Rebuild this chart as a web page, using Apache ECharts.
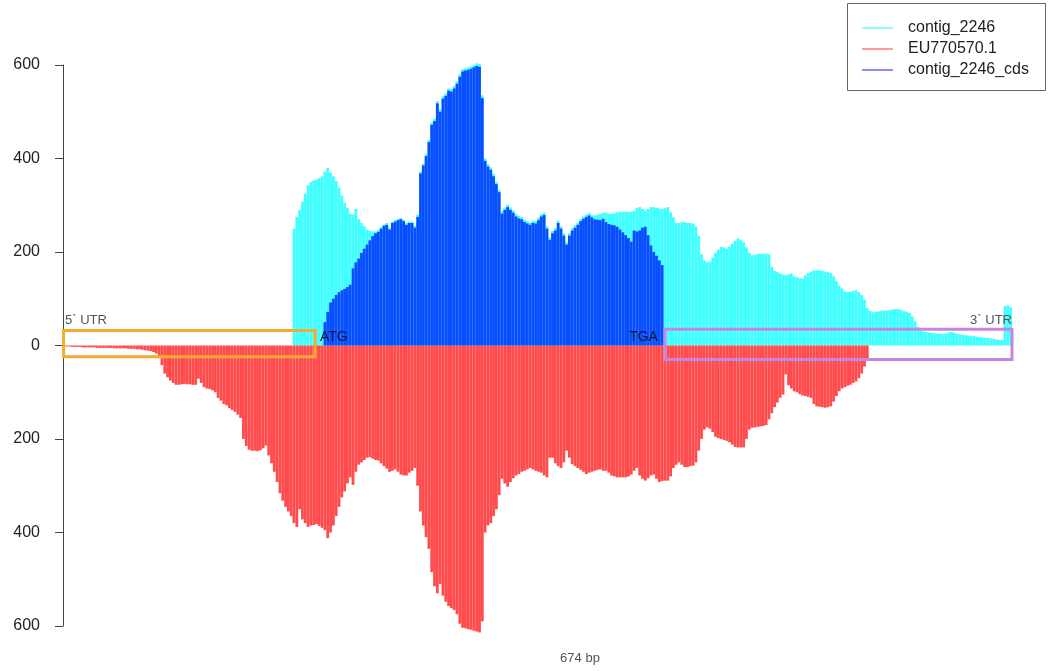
<!DOCTYPE html>
<html>
<head>
<meta charset="utf-8">
<script src="https://cdn.jsdelivr.net/npm/echarts@6/dist/echarts.min.js"></script>
<style>
  html, body { margin: 0; padding: 0; background: #ffffff; }
  #chart { width: 1049px; height: 671px; }
</style>
</head>
<body>
<div id="chart"></div>
<script>
// Read depth along a 674 bp transcript, one bar per 2 bp bin.
const totalBp = 674;
const binBp = 2;
const seriesNames = ['contig_2246', 'EU770570.1', 'contig_2246_cds'];
const yTickValues = [-600, -400, -200, 0, 200, 400, 600];
const xTitle = '674 bp';

// contig_2246 coverage (upper side), first covered bin starts at bp 163
const contigStart = 163;
const contigDepth = [
  250,275,290,308,325,343,350,353,355,
  358,362,372,380,370,362,352,338,321,305,
  294,282,280,292,270,262,255,248,246,244,
  244,247,253,259,262,252,265,268,271,273,
  269,262,265,265,256,280,372,389,410,440,
  477,485,523,505,533,539,550,548,555,565,
  580,591,593,595,597,600,604,602,535,400,
  388,381,367,350,333,287,295,301,295,289,
  281,277,275,269,266,263,267,266,273,281,
  284,255,231,245,251,267,255,240,221,240,
  251,257,263,271,276,280,283,279,278,280,
  282,284,284,282,282,283,285,286,286,286,
  286,286,288,294,296,292,289,292,296,296,
  294,293,292,294,296,285,274,262,262,264,
  264,262,262,261,255,235,195,182,178,180,
  188,198,205,211,210,207,212,218,224,229,
  226,221,210,198,193,194,196,196,196,197,
  195,168,160,157,154,152,150,152,154,148,
  146,144,143,150,155,158,161,161,161,160,
  158,157,155,148,138,128,122,116,114,115,
  117,118,114,108,98,80,74,71,72,73,
  74,75,75,76,77,78,78,76,74,72,
  70,62,52,40,31,30,29,28,27,26,
  25,25,24,26,28,29,27,25,24,23,
  22,21,20,20,19,18,17,16,16,15,
  14,13,12,12,84,86,82
];

// contig_2246 coding region coverage, drawn over the contig bars
const cdsStart = 185;
const cdsDepth = [
  50,72,92,100,108,114,118,121,
  125,130,165,178,186,198,207,216,225,234,
  240,243,250,256,258,248,262,265,268,270,
  266,258,262,262,252,275,368,385,405,435,
  472,480,518,500,528,534,545,543,550,560,
  575,586,588,590,592,595,598,596,529,395,
  383,376,362,345,328,282,290,296,290,284,
  276,272,270,264,261,258,262,261,268,276,
  279,250,226,240,246,262,250,235,216,235,
  246,252,258,266,271,275,278,274,270,269,
  268,271,264,260,258,257,254,248,242,236,
  230,222,246,244,246,252,254,236,214,200,
  192,182,172
];

// EU770570.1 coverage (mirrored below the axis)
const euStart = 1;
const euDepth = [
  2,2,3,3,3,3,4,4,4,4,
  4,5,5,5,5,5,5,6,6,6,
  6,6,7,7,7,8,8,9,10,11,
  12,14,17,22,42,60,68,75,80,84,
  84,83,82,83,83,84,84,71,80,89,
  92,93,96,100,112,118,125,128,134,138,
  142,148,155,200,215,223,225,225,226,224,
  220,214,235,252,270,292,316,332,345,355,
  365,380,388,350,372,380,388,385,384,382,
  386,390,395,412,400,385,365,345,325,312,
  295,282,298,270,255,250,245,240,239,242,
  245,246,252,258,263,270,268,265,270,276,
  278,278,272,268,262,300,355,385,410,435,
  485,515,530,510,535,548,557,562,566,575,
  595,604,605,607,608,610,612,614,590,400,
  385,380,365,350,320,285,295,302,292,284,
  278,275,270,268,265,262,265,268,270,272,
  278,282,240,240,252,258,262,250,225,240,
  254,258,262,266,270,275,272,270,268,266,
  265,268,268,272,278,280,282,282,282,282,
  280,276,268,262,278,285,289,284,278,276,
  285,292,290,289,289,280,262,255,250,255,
  260,260,258,257,250,225,200,180,175,178,
  185,195,198,200,202,204,207,212,217,218,
  218,218,200,180,176,175,174,173,172,170,
  158,145,132,122,112,105,62,85,92,98,
  100,104,107,108,110,112,125,130,131,132,
  133,132,130,120,108,98,92,89,86,84,
  80,77,70,60,45,30
];

// Annotated regions (bp boundaries and depth extents of the outline boxes)
const utr5Region = [-1, 178];
const utr5Depth = [-24, 32];
const utr3Region = [427, 674];
const utr3Depth = [-30, 35];
const startCodonBp = 181.5;
const stopCodonBp = 422;

const colors = {
  contig: '#40ffff',
  cds: '#0b4cff',
  eu: '#ff4b4b',
  contigLegend: '#8cffff',
  euLegend: '#ff9a9a',
  cdsLegend: '#8c8cff',
  utr5: '#f5aa33',
  utr3: '#c585e2'
};

// bin start positions as categories
const positions = [];
for (let p = 1; p <= totalBp; p += binBp) positions.push(p);

function placeBins(start, values, sign) {
  const out = positions.map(() => null);
  const k0 = (start - 1) / binBp;
  values.forEach((v, i) => { out[k0 + i] = sign * v; });
  return out;
}

const FONT = '"Liberation Sans", Arial, Helvetica, sans-serif';
const chart = echarts.init(document.getElementById('chart'), null, { renderer: 'canvas' });

const barCommon = {
  type: 'bar',
  barGap: '-100%',
  barCategoryGap: '0%',
  clip: false,
  animation: false,
  silent: true
};

chart.setOption({
  animation: false,
  backgroundColor: '#ffffff',
  grid: { left: 65, right: 37, top: 65, bottom: 45 },
  xAxis: {
    type: 'category',
    data: positions,
    boundaryGap: true,
    axisLine: { show: false },
    axisTick: { show: false },
    axisLabel: { show: false },
    splitLine: { show: false }
  },
  yAxis: {
    type: 'value',
    min: yTickValues[0],
    max: yTickValues[yTickValues.length - 1],
    interval: 200,
    offset: 2,
    axisLine: { show: true, lineStyle: { color: '#444', width: 1 } },
    axisTick: { show: true, length: 8, inside: false, lineStyle: { color: '#444', width: 1 } },
    axisLabel: {
      formatter: v => String(Math.abs(v)),
      fontSize: 16,
      color: '#222',
      margin: 23,
      fontFamily: FONT
    },
    splitLine: { show: false }
  },
  series: [
    Object.assign({}, barCommon, {
      name: seriesNames[0],
      data: placeBins(contigStart, contigDepth, 1),
      itemStyle: { color: colors.contig },
      z: 2
    }),
    Object.assign({}, barCommon, {
      name: seriesNames[2],
      data: placeBins(cdsStart, cdsDepth, 1),
      itemStyle: { color: colors.cds },
      z: 3
    }),
    Object.assign({}, barCommon, {
      name: seriesNames[1],
      data: placeBins(euStart, euDepth, -1),
      itemStyle: { color: colors.eu },
      z: 2
    })
  ]
});

// Pixel helpers for annotations placed in data units
const c0 = chart.convertToPixel({ gridIndex: 0 }, [0, 0]);
const c1 = chart.convertToPixel({ gridIndex: 0 }, [1, 0]);
const band = c1[0] - c0[0];
const bpX = bp => c0[0] - band / 2 + bp * band / binBp;
const valY = v => chart.convertToPixel({ gridIndex: 0 }, [0, v])[1];

function outlineBox(region, depth, color) {
  const x1 = bpX(region[0]), x2 = bpX(region[1]);
  const y1 = valY(depth[1]), y2 = valY(depth[0]);
  return {
    type: 'rect',
    z: 50,
    silent: true,
    shape: { x: x1, y: y1, width: x2 - x1, height: y2 - y1 },
    style: { fill: 'none', stroke: color, lineWidth: 3 }
  };
}

function label(text, x, y, align, size, color) {
  return {
    type: 'text',
    z: 60,
    silent: true,
    style: {
      text: text, x: x, y: y,
      textAlign: align, textVerticalAlign: 'middle',
      fontSize: size, fontFamily: FONT, fill: color
    }
  };
}

// Legend box
const lg = { x: 847, y: 3, w: 198, h: 87 };
const legendRows = [
  { name: seriesNames[0], color: colors.contigLegend },
  { name: seriesNames[1], color: colors.euLegend },
  { name: seriesNames[2], color: colors.cdsLegend }
];
const legendEls = [{
  type: 'rect', z: 70, silent: true,
  shape: { x: lg.x + 0.5, y: lg.y + 0.5, width: lg.w, height: lg.h },
  style: { fill: '#ffffff', stroke: '#666', lineWidth: 1 }
}];
legendRows.forEach((r, i) => {
  const y = 28 + i * 21;
  legendEls.push({
    type: 'line', z: 71, silent: true,
    shape: { x1: 862, y1: y, x2: 893, y2: y },
    style: { stroke: r.color, lineWidth: 2 }
  });
  legendEls.push(Object.assign(label(r.name, 908, y, 'left', 16, '#222'), { z: 72 }));
});

const labelY = valY(54);
const codonY = valY(18);

chart.setOption({
  graphic: {
    elements: [
      outlineBox(utr5Region, utr5Depth, colors.utr5),
      outlineBox(utr3Region, utr3Depth, colors.utr3),
      label('5` UTR', bpX(0), labelY, 'left', 13, '#555'),
      label('3` UTR', bpX(totalBp), labelY, 'right', 13, '#555'),
      label('ATG', bpX(startCodonBp), codonY, 'left', 14, '#111a33'),
      label('TGA', bpX(stopCodonBp), codonY, 'right', 14, '#111a33'),
      label(xTitle, 580, 658, 'center', 13, '#555')
    ].concat(legendEls)
  }
});
</script>
</body>
</html>
